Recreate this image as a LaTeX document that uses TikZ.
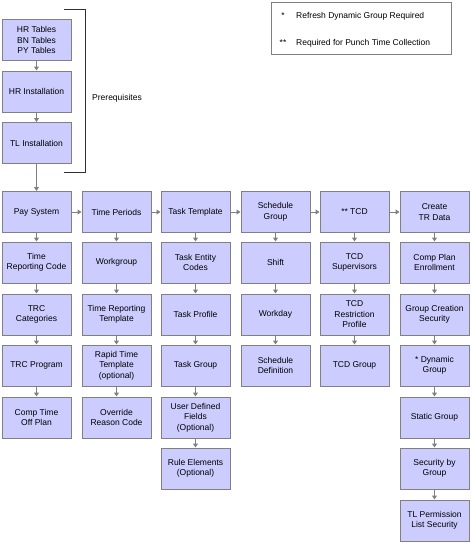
\documentclass[tikz,border=0pt]{standalone}
\usepackage{fontspec}
\setmainfont{Liberation Sans}
\usepackage{xcolor}
\usetikzlibrary{arrows.meta}
\definecolor{boxfill}{HTML}{CCCCFF}
\definecolor{boxline}{HTML}{808080}
\definecolor{brack}{HTML}{303030}

\begin{document}
\begin{tikzpicture}[x=1pt,y=-1pt,
  box/.style={draw=boxline,fill=boxfill,line width=1pt,minimum width=69pt,minimum height=41pt,inner sep=1pt,align=center,font=\fontsize{8.5}{10.5}\selectfont},
  flow/.style={draw=boxline,line width=1pt,-{Triangle[width=5pt,length=4pt]}},
  note/.style={font=\fontsize{8.5}{10.5}\selectfont,inner sep=0pt}]
\useasboundingbox (0,0) rectangle (471,543);
% prerequisites
\node[box](hrtab) at (36.5,40){HR Tables\\BN Tables\\PY Tables};
\node[box](hrinst) at (36.5,91.5){HR Installation};
\node[box](tlinst) at (36.5,143){TL Installation};
\draw[brack,line width=1pt](64,10)--(85.5,10)--(85.5,172)--(64,172);
\node[note,anchor=west](prereq) at (92,98){Prerequisites};
% legend
\draw[boxline,line width=1pt](271,3) rectangle (451,55);
\node[note](star) at (283,16){*};
\node[note,anchor=west](refresh) at (296,16){Refresh Dynamic Group Required};
\node[note](dstar) at (283,43){**};
\node[note,anchor=west](punch) at (296,43){Required for Punch Time Collection};
% column 1
\node[box](paysys) at (36.5,212){Pay System};
\node[box](trc) at (36.5,262.5){Time\\Reporting Code};
\node[box](trccat) at (36.5,314.5){TRC\\Categories};
\node[box](trcprog) at (36.5,365.5){TRC Program};
\node[box](comptime) at (36.5,417.5){Comp Time\\Off Plan};
% column 2
\node[box](timeper) at (116.5,212){Time Periods};
\node[box](wkgrp) at (116.5,262.5){Workgroup};
\node[box](trtempl) at (116.5,314.5){Time Reporting\\Template};
\node[box](rapid) at (116.5,365.5){Rapid Time\\Template\\(optional)};
\node[box](override) at (116.5,417.5){Override\\Reason Code};
% column 3
\node[box](tasktmpl) at (195.5,212){Task Template};
\node[box](taskent) at (195.5,262.5){Task Entity\\Codes};
\node[box](taskprof) at (195.5,314.5){Task Profile};
\node[box](taskgrp) at (195.5,365.5){Task Group};
\node[box](userdef) at (195.5,417.5){User Defined\\Fields\\(Optional)};
\node[box](rulelem) at (195.5,468.5){Rule Elements\\(Optional)};
% column 4
\node[box](schedgrp) at (275.5,212){Schedule\\Group};
\node[box](shift) at (275.5,262.5){Shift};
\node[box](workday) at (275.5,314.5){Workday};
\node[box](scheddef) at (275.5,365.5){Schedule\\Definition};
% column 5
\node[box](tcd) at (354.5,212){** TCD};
\node[box](tcdsup) at (354.5,262.5){TCD\\Supervisors};
\node[box](tcdrestr) at (354.5,314.5){TCD\\Restriction\\Profile};
\node[box](tcdgrp) at (354.5,365.5){TCD Group};
% column 6
\node[box](trdata) at (434.5,212){Create\\TR Data};
\node[box](compplan) at (434.5,262.5){Comp Plan\\Enrollment};
\node[box](grpsec) at (434.5,314.5){Group Creation\\Security};
\node[box](dyngrp) at (434.5,365.5){* Dynamic\\Group};
\node[box](statgrp) at (434.5,417.5){Static Group};
\node[box](secgrp) at (434.5,468.5){Security by\\Group};
\node[box](tlperm) at (434.5,520.5){TL Permission\\List Security};
% connectors
\foreach \a/\b in {hrtab/hrinst,hrinst/tlinst,tlinst/paysys,
  paysys/trc,trc/trccat,trccat/trcprog,trcprog/comptime,
  timeper/wkgrp,wkgrp/trtempl,trtempl/rapid,rapid/override,
  tasktmpl/taskent,taskent/taskprof,taskprof/taskgrp,taskgrp/userdef,userdef/rulelem,
  schedgrp/shift,shift/workday,workday/scheddef,
  tcd/tcdsup,tcdsup/tcdrestr,tcdrestr/tcdgrp,
  trdata/compplan,compplan/grpsec,grpsec/dyngrp,dyngrp/statgrp,statgrp/secgrp,secgrp/tlperm,
  paysys/timeper,timeper/tasktmpl,tasktmpl/schedgrp,schedgrp/tcd,tcd/trdata}
  \draw[flow](\a)--(\b);
\end{tikzpicture}
\end{document}
